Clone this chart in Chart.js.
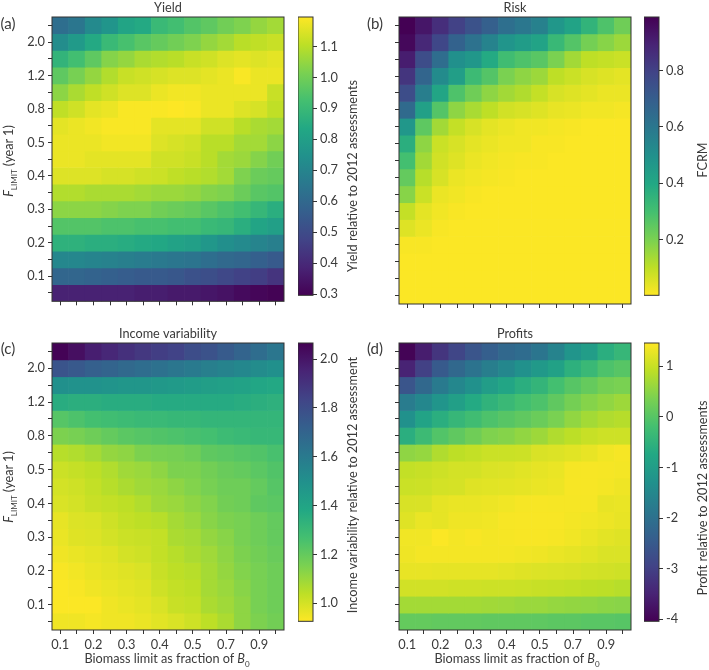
<!DOCTYPE html>
<html>
<head>
<meta charset="utf-8">
<title>Harvest control rule heatmaps</title>
<script src="https://cdn.jsdelivr.net/npm/chart.js@4"></script>
<style>
  html, body { margin: 0; padding: 0; background: #fff; }
  #page { position: relative; width: 709px; height: 670px; overflow: hidden; font-family: Lato, sans-serif; color: #3a3a3a; }
  canvas { position: absolute; }
  .lbl { position: absolute; white-space: nowrap; font-size: 12.7px; line-height: 14px; transform: translate(-50%, -50%); }
  .rot { transform: translate(-50%, -50%) rotate(-90deg); }
  .tag { font-size: 15px; }
  .lbl sub { font-size: 8px; line-height: 0; }
</style>
</head>
<body>
<div id="page"></div>
<script>
// Axis labels, top row first on the y axis
const xLabels = ['0.1', '', '0.2', '', '0.3', '', '0.4', '', '0.5', '', '0.7', '', '0.9', ''];
const yLabels = ['', '2.0', '', '1.2', '', '0.8', '', '0.5', '', '0.4', '', '0.3', '', '0.2', '', '0.1', ''];

// Values, one row per F limit, top to bottom
const yieldRows = [
  [0.62, 0.65, 0.72, 0.76, 0.82, 0.84, 0.90, 0.92, 0.95, 0.97, 1.00, 1.02, 1.05, 1.07],
  [0.73, 0.78, 0.84, 0.90, 0.93, 0.96, 0.98, 1.00, 1.02, 1.05, 1.07, 1.10, 1.11, 1.12],
  [0.88, 0.92, 0.97, 1.03, 1.05, 1.08, 1.09, 1.10, 1.12, 1.13, 1.15, 1.16, 1.15, 1.16],
  [0.97, 1.01, 1.05, 1.09, 1.12, 1.13, 1.14, 1.15, 1.15, 1.16, 1.17, 1.19, 1.17, 1.17],
  [1.04, 1.08, 1.11, 1.13, 1.15, 1.15, 1.17, 1.18, 1.18, 1.17, 1.17, 1.17, 1.17, 1.12],
  [1.11, 1.13, 1.16, 1.17, 1.19, 1.19, 1.19, 1.195, 1.19, 1.17, 1.17, 1.15, 1.14, 1.11],
  [1.16, 1.17, 1.18, 1.19, 1.19, 1.19, 1.16, 1.16, 1.16, 1.13, 1.13, 1.10, 1.08, 1.07],
  [1.17, 1.17, 1.17, 1.18, 1.18, 1.18, 1.15, 1.14, 1.13, 1.10, 1.10, 1.07, 1.07, 1.04],
  [1.17, 1.17, 1.16, 1.16, 1.16, 1.16, 1.13, 1.13, 1.12, 1.10, 1.07, 1.06, 1.03, 1.00],
  [1.15, 1.15, 1.15, 1.14, 1.14, 1.13, 1.125, 1.11, 1.10, 1.09, 1.07, 1.02, 0.99, 0.98],
  [1.09, 1.09, 1.08, 1.08, 1.08, 1.07, 1.06, 1.06, 1.05, 1.03, 1.02, 0.99, 0.96, 0.95],
  [1.04, 1.04, 1.04, 1.03, 1.02, 1.02, 1.00, 0.99, 0.98, 0.96, 0.94, 0.92, 0.89, 0.86],
  [0.95, 0.95, 0.95, 0.94, 0.94, 0.93, 0.93, 0.92, 0.92, 0.90, 0.89, 0.86, 0.82, 0.80],
  [0.87, 0.87, 0.86, 0.86, 0.85, 0.84, 0.83, 0.81, 0.80, 0.77, 0.74, 0.72, 0.70, 0.68],
  [0.71, 0.71, 0.70, 0.69, 0.68, 0.67, 0.66, 0.65, 0.64, 0.62, 0.60, 0.59, 0.57, 0.55],
  [0.59, 0.59, 0.58, 0.57, 0.56, 0.55, 0.55, 0.54, 0.52, 0.51, 0.49, 0.47, 0.46, 0.43],
  [0.38, 0.38, 0.38, 0.38, 0.38, 0.37, 0.37, 0.36, 0.36, 0.35, 0.34, 0.32, 0.31, 0.30]
];

const riskRows = [
  [0.99, 0.93, 0.86, 0.80, 0.74, 0.69, 0.63, 0.60, 0.56, 0.47, 0.42, 0.35, 0.28, 0.22],
  [0.97, 0.88, 0.78, 0.68, 0.62, 0.55, 0.48, 0.45, 0.42, 0.33, 0.27, 0.21, 0.18, 0.15],
  [0.91, 0.76, 0.64, 0.50, 0.47, 0.39, 0.31, 0.28, 0.26, 0.20, 0.14, 0.10, 0.09, 0.08],
  [0.84, 0.67, 0.52, 0.44, 0.32, 0.27, 0.20, 0.17, 0.15, 0.10, 0.08, 0.06, 0.05, 0.04],
  [0.76, 0.57, 0.41, 0.28, 0.22, 0.17, 0.14, 0.12, 0.09, 0.06, 0.05, 0.04, 0.03, 0.03],
  [0.65, 0.43, 0.27, 0.17, 0.13, 0.10, 0.07, 0.06, 0.05, 0.035, 0.03, 0.02, 0.02, 0.015],
  [0.47, 0.25, 0.14, 0.09, 0.06, 0.04, 0.03, 0.02, 0.02, 0.015, 0.01, 0.005, 0.005, 0.005],
  [0.37, 0.17, 0.08, 0.06, 0.04, 0.03, 0.02, 0.02, 0.01, 0.01, 0.005, 0.005, 0.005, 0.005],
  [0.30, 0.14, 0.07, 0.05, 0.03, 0.02, 0.015, 0.01, 0.01, 0.005, 0.005, 0.005, 0.005, 0.005],
  [0.24, 0.11, 0.06, 0.03, 0.02, 0.015, 0.01, 0.005, 0.005, 0.005, 0.005, 0.005, 0.005, 0.005],
  [0.18, 0.08, 0.03, 0.02, 0.01, 0.005, 0.005, 0.005, 0.005, 0.005, 0.005, 0.005, 0.005, 0.005],
  [0.09, 0.04, 0.02, 0.01, 0.005, 0.005, 0.005, 0.005, 0.005, 0.005, 0.005, 0.005, 0.005, 0.005],
  [0.05, 0.03, 0.01, 0.005, 0.005, 0.005, 0.005, 0.005, 0.005, 0.005, 0.005, 0.005, 0.005, 0.005],
  [0.01, 0.01, 0.005, 0.005, 0.005, 0.005, 0.005, 0.005, 0.005, 0.005, 0.005, 0.005, 0.005, 0.005],
  [0.005, 0.005, 0.005, 0.005, 0.005, 0.005, 0.005, 0.005, 0.005, 0.005, 0.005, 0.005, 0.005, 0.005],
  [0.005, 0.005, 0.005, 0.005, 0.005, 0.005, 0.005, 0.005, 0.005, 0.005, 0.005, 0.005, 0.005, 0.005],
  [0.005, 0.005, 0.005, 0.005, 0.005, 0.005, 0.005, 0.005, 0.005, 0.005, 0.005, 0.005, 0.005, 0.005]
];

const incomeRows = [
  [2.06, 2.02, 1.97, 1.94, 1.91, 1.88, 1.86, 1.84, 1.80, 1.78, 1.74, 1.70, 1.66, 1.62],
  [1.77, 1.75, 1.72, 1.70, 1.68, 1.66, 1.64, 1.62, 1.60, 1.58, 1.56, 1.54, 1.52, 1.50],
  [1.50, 1.49, 1.49, 1.48, 1.47, 1.47, 1.46, 1.45, 1.44, 1.43, 1.42, 1.41, 1.39, 1.38],
  [1.36, 1.35, 1.35, 1.36, 1.36, 1.36, 1.37, 1.37, 1.37, 1.37, 1.37, 1.36, 1.35, 1.34],
  [1.23, 1.25, 1.27, 1.28, 1.29, 1.30, 1.30, 1.31, 1.31, 1.32, 1.32, 1.32, 1.32, 1.32],
  [1.15, 1.16, 1.18, 1.20, 1.22, 1.23, 1.24, 1.25, 1.26, 1.27, 1.29, 1.30, 1.31, 1.31],
  [1.05, 1.06, 1.08, 1.11, 1.12, 1.15, 1.16, 1.165, 1.18, 1.21, 1.22, 1.23, 1.24, 1.26],
  [1.015, 1.025, 1.04, 1.06, 1.09, 1.10, 1.12, 1.15, 1.15, 1.17, 1.19, 1.20, 1.22, 1.24],
  [1.00, 1.01, 1.03, 1.05, 1.07, 1.09, 1.10, 1.12, 1.14, 1.16, 1.18, 1.18, 1.20, 1.23],
  [0.99, 1.00, 1.02, 1.03, 1.04, 1.06, 1.09, 1.10, 1.12, 1.14, 1.17, 1.18, 1.21, 1.22],
  [0.965, 0.985, 0.99, 1.01, 1.03, 1.04, 1.05, 1.08, 1.10, 1.13, 1.15, 1.16, 1.18, 1.20],
  [0.96, 0.98, 0.985, 1.00, 1.015, 1.02, 1.03, 1.07, 1.08, 1.11, 1.13, 1.16, 1.18, 1.20],
  [0.95, 0.96, 0.97, 0.98, 1.00, 1.01, 1.03, 1.05, 1.07, 1.09, 1.12, 1.15, 1.17, 1.19],
  [0.935, 0.945, 0.96, 0.97, 0.98, 0.99, 1.02, 1.04, 1.05, 1.08, 1.11, 1.14, 1.16, 1.18],
  [0.93, 0.935, 0.95, 0.96, 0.97, 0.98, 1.01, 1.03, 1.04, 1.08, 1.10, 1.13, 1.16, 1.18],
  [0.93, 0.93, 0.93, 0.95, 0.96, 0.97, 0.99, 1.02, 1.03, 1.07, 1.09, 1.12, 1.16, 1.18],
  [0.95, 0.95, 0.94, 0.95, 0.95, 0.96, 0.975, 0.99, 1.01, 1.04, 1.07, 1.12, 1.15, 1.17]
];

const profitRows = [
  [-4.0, -3.6, -3.2, -2.9, -2.6, -2.4, -2.2, -2.1, -1.9, -1.6, -1.2, -1.0, -0.6, -0.4],
  [-3.5, -3.0, -2.5, -2.2, -1.95, -1.7, -1.5, -1.3, -1.1, -0.9, -0.55, -0.35, -0.1, 0.0],
  [-2.6, -2.2, -1.8, -1.5, -1.3, -1.0, -0.8, -0.6, -0.45, -0.2, 0.0, 0.15, 0.3, 0.35],
  [-1.75, -1.5, -1.2, -0.95, -0.7, -0.5, -0.35, -0.2, -0.1, 0.1, 0.3, 0.45, 0.55, 0.65],
  [-1.3, -0.85, -0.6, -0.4, -0.25, -0.1, 0.0, 0.1, 0.2, 0.35, 0.55, 0.7, 0.8, 0.85],
  [-0.6, -0.3, -0.05, 0.1, 0.25, 0.4, 0.45, 0.55, 0.65, 0.8, 0.9, 1.0, 1.05, 1.05],
  [0.53, 0.58, 0.80, 0.91, 0.96, 1.02, 1.02, 1.04, 1.15, 1.18, 1.22, 1.28, 1.36, 1.40],
  [0.96, 1.00, 1.05, 1.10, 1.10, 1.16, 1.18, 1.22, 1.26, 1.30, 1.40, 1.41, 1.40, 1.38],
  [1.02, 1.04, 1.10, 1.12, 1.20, 1.22, 1.24, 1.26, 1.30, 1.32, 1.41, 1.41, 1.38, 1.34],
  [1.14, 1.15, 1.26, 1.30, 1.30, 1.32, 1.36, 1.40, 1.41, 1.40, 1.40, 1.40, 1.28, 1.30],
  [1.20, 1.30, 1.26, 1.34, 1.34, 1.36, 1.41, 1.42, 1.42, 1.42, 1.38, 1.36, 1.32, 1.28],
  [1.36, 1.36, 1.44, 1.38, 1.42, 1.38, 1.40, 1.42, 1.42, 1.40, 1.36, 1.30, 1.24, 1.20],
  [1.34, 1.38, 1.38, 1.38, 1.38, 1.38, 1.38, 1.36, 1.34, 1.30, 1.26, 1.22, 1.16, 1.16],
  [1.28, 1.28, 1.26, 1.26, 1.26, 1.26, 1.24, 1.20, 1.18, 1.16, 1.14, 1.10, 1.08, 1.06],
  [1.08, 1.08, 1.08, 1.06, 1.06, 1.04, 1.04, 1.02, 1.00, 0.98, 0.95, 0.92, 0.90, 0.86],
  [0.70, 0.70, 0.70, 0.70, 0.70, 0.68, 0.66, 0.62, 0.62, 0.58, 0.56, 0.54, 0.50, 0.48],
  [0.14, 0.14, 0.12, 0.12, 0.12, 0.10, 0.10, 0.10, 0.08, 0.05, 0.05, 0.02, 0.02, 0.0]
];

// Colorbar ticks
const yieldTicks = [0.3, 0.4, 0.5, 0.6, 0.7, 0.8, 0.9, 1.0, 1.1];
const riskTicks = [0.2, 0.4, 0.6, 0.8];
const incomeTicks = [1.0, 1.2, 1.4, 1.6, 1.8, 2.0];
const profitTicks = [-4, -3, -2, -1, 0, 1];

const viridis = ['#440154', '#482475', '#414487', '#355f8d', '#2a788e', '#21918c', '#22a884', '#44bf70', '#7ad151', '#bddf26', '#fde725'];

const ink = '#3a3a3a';
const spine = '#333333';
const page = document.getElementById('page');

const hexToRgb = hex => [1, 3, 5].map(i => parseInt(hex.slice(i, i + 2), 16));

const colorAt = (t, reversed) => {
  const pos = Math.min(Math.max(reversed ? 1 - t : t, 0), 1) * (viridis.length - 1);
  const i = Math.min(Math.floor(pos), viridis.length - 2);
  const a = hexToRgb(viridis[i]);
  const b = hexToRgb(viridis[i + 1]);
  const mix = a.map((v, k) => Math.round(v + (b[k] - v) * (pos - i)));
  return `rgb(${mix.join(',')})`;
};

const addCanvas = (left, top, width, height) => {
  const canvas = document.createElement('canvas');
  canvas.width = width;
  canvas.height = height;
  canvas.style.left = left + 'px';
  canvas.style.top = top + 'px';
  canvas.style.width = width + 'px';
  canvas.style.height = height + 'px';
  page.appendChild(canvas);
  return canvas.getContext('2d');
};

const addLabel = (html, x, y, cls = '') => {
  const el = document.createElement('div');
  el.className = 'lbl ' + cls;
  el.style.left = x + 'px';
  el.style.top = y + 'px';
  el.innerHTML = html;
  page.appendChild(el);
};

// Frame round the plot area
const framePlugin = {
  id: 'frame',
  afterDatasetsDraw(chart) {
    const { ctx, chartArea: a } = chart;
    ctx.save();
    ctx.strokeStyle = spine;
    ctx.lineWidth = 1;
    ctx.strokeRect(a.left, a.top, a.right - a.left, a.bottom - a.top);
    ctx.restore();
  }
};

const tickFont = { family: 'Lato', size: 12.8 };

const drawHeatmap = ({ rows, title, left, top, bottom, min, max, reversed, showX, showY }) => {
  const axisW = 52;
  const titleH = 17;
  const belowH = showX ? 24 : 8;
  const ctx = addCanvas(left - axisW, top - titleH, axisW + 232 + 2, bottom - top + titleH + belowH);

  new Chart(ctx, {
    type: 'bar',
    data: {
      labels: xLabels,
      datasets: rows.map((row, r) => ({
        data: row.map(() => [r, r + 1]),
        backgroundColor: row.map(v => colorAt((v - min) / (max - min), reversed)),
        borderWidth: 0,
        barPercentage: 1,
        categoryPercentage: 1,
        grouped: false
      }))
    },
    options: {
      responsive: false,
      animation: false,
      layout: { padding: { right: 2 } },
      plugins: {
        legend: { display: false },
        tooltip: { enabled: false },
        title: {
          display: true,
          text: title,
          fullSize: false,
          color: ink,
          font: { family: 'Lato', size: 12.7, weight: 'normal', lineHeight: '14px' },
          padding: { top: 1, bottom: 2 }
        }
      },
      scales: {
        x: {
          afterFit: scale => { scale.height = belowH; },
          grid: { offset: false, drawOnChartArea: false, tickLength: 4, color: spine },
          border: { display: false },
          ticks: { display: showX, autoSkip: false, maxRotation: 0, color: ink, font: tickFont, padding: 3 }
        },
        y: {
          type: 'linear',
          reverse: true,
          min: 0,
          max: rows.length,
          afterFit: scale => { scale.width = axisW; },
          afterBuildTicks: scale => { scale.ticks = rows.map((_, r) => ({ value: r + 0.5 })); },
          grid: { drawOnChartArea: false, tickLength: 4, color: spine },
          border: { display: false },
          ticks: {
            display: showY,
            autoSkip: false,
            color: ink,
            font: tickFont,
            padding: 3,
            callback: value => yLabels[Math.floor(value)]
          }
        }
      }
    },
    plugins: [framePlugin]
  });
};

const drawColorbar = ({ left, top, bottom, min, max, reversed, ticks, decimals }) => {
  const axisW = 45;
  const ctx = addCanvas(left, 0, 15 + axisW + 2, bottom + 2);

  new Chart(ctx, {
    type: 'bar',
    data: {
      labels: ['bar'],
      datasets: [{
        data: [[min, max]],
        borderWidth: 0,
        barPercentage: 1,
        categoryPercentage: 1,
        backgroundColor: c => {
          const area = c.chart.chartArea;
          if (!area) return viridis[0];
          const grad = c.chart.ctx.createLinearGradient(0, area.bottom, 0, area.top);
          viridis.forEach((col, i) => {
            const stop = i / (viridis.length - 1);
            grad.addColorStop(reversed ? 1 - stop : stop, col);
          });
          return grad;
        }
      }]
    },
    options: {
      responsive: false,
      animation: false,
      layout: { padding: { top, bottom: 2, right: 2 } },
      plugins: { legend: { display: false }, tooltip: { enabled: false } },
      scales: {
        x: { display: false },
        y: {
          position: 'right',
          min,
          max,
          afterFit: scale => { scale.width = axisW; },
          afterBuildTicks: scale => { scale.ticks = ticks.map(value => ({ value })); },
          grid: { drawOnChartArea: false, tickLength: 4, color: spine },
          border: { display: false },
          ticks: {
            autoSkip: false,
            color: ink,
            font: tickFont,
            padding: 3,
            callback: value => value.toFixed(decimals)
          }
        }
      }
    },
    plugins: [framePlugin]
  });
};

const topRow = { top: 17, bottom: 304 };
const bottomRow = { top: 343, bottom: 630 };
const leftCol = { left: 52, barLeft: 298 };
const rightCol = { left: 399, barLeft: 644 };

const panels = [
  { rows: yieldRows, title: 'Yield', ...topRow, ...leftCol, min: 0.296, max: 1.195, reversed: false, ticks: yieldTicks, decimals: 1, showX: false, showY: true },
  { rows: riskRows, title: 'Risk', ...topRow, ...rightCol, min: 0.002, max: 0.99, reversed: true, ticks: riskTicks, decimals: 1, showX: false, showY: false },
  { rows: incomeRows, title: 'Income variability', ...bottomRow, ...leftCol, min: 0.926, max: 2.066, reversed: true, ticks: incomeTicks, decimals: 1, showX: true, showY: true },
  { rows: profitRows, title: 'Profits', ...bottomRow, ...rightCol, min: -4.04, max: 1.46, reversed: false, ticks: profitTicks, decimals: 0, showX: true, showY: false }
];

panels.forEach(p => {
  drawHeatmap(p);
  drawColorbar({ ...p, left: p.barLeft });
});

// Mixed italic and subscript labels and panel letters
const fLimit = '<i>F</i><sub>LIMIT</sub> (year 1)';
const bLimit = 'Biomass limit as fraction of <i>B</i><sub>0</sub>';
addLabel(fLimit, 8, 161, 'rot');
addLabel(fLimit, 8, 487, 'rot');
addLabel(bLimit, 167, 658);
addLabel(bLimit, 517, 658);
addLabel('Yield relative to 2012 assessments', 352, 176, 'rot');
addLabel('FCRM', 702, 160, 'rot');
addLabel('Income variability relative to 2012 assessment', 352, 485, 'rot');
addLabel('Profit relative to 2012 assessments', 702, 498, 'rot');
addLabel('(a)', 8, 23, 'tag');
addLabel('(b)', 375, 23, 'tag');
addLabel('(c)', 8, 348, 'tag');
addLabel('(d)', 375, 348, 'tag');
</script>
</body>
</html>
